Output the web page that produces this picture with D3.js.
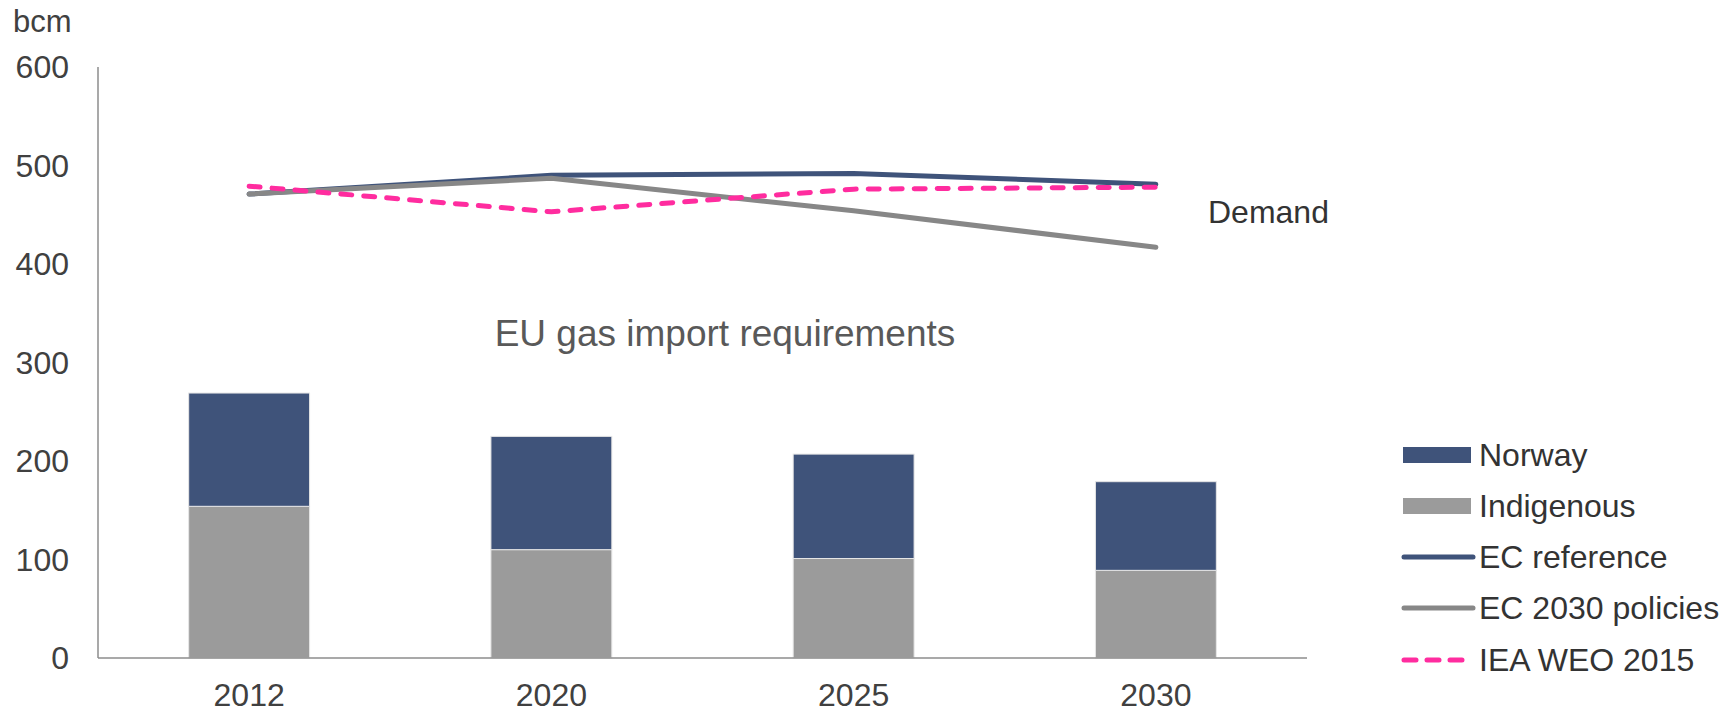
<!DOCTYPE html>
<html>
<head>
<meta charset="utf-8">
<script src="https://cdn.jsdelivr.net/npm/d3@7"></script>
<style>
  body { margin: 0; background: #fff; }
  text { font-family: "Liberation Sans", Arial, sans-serif; }
</style>
</head>
<body>
<div id="chart"></div>
<script>
const years = ["2012", "2020", "2025", "2030"];
const indigenous = [154, 110, 101, 89];
const norway = [115, 115, 106, 90];
const ecReference = [471, 490, 492, 481];
const ec2030Policies = [471, 487, 454, 417];
const ieaWeo2015 = [479, 453, 476, 478];
const yTicks = [0, 100, 200, 300, 400, 500, 600];

const width = 1734, height = 711;
const svg = d3.select("#chart").append("svg")
  .attr("width", width)
  .attr("height", height);

const x = d3.scaleBand()
  .domain(years)
  .range([98, 1307])
  .paddingInner(0.6)
  .paddingOuter(0.3);

const y = d3.scaleLinear()
  .domain([0, 600])
  .range([658, 67]);

// y tick labels
svg.append("g").selectAll("text")
  .data(yTicks)
  .enter().append("text")
  .attr("x", 69)
  .attr("y", d => y(d))
  .attr("dy", "0.35em")
  .attr("text-anchor", "end")
  .attr("font-size", 32)
  .attr("fill", "#404040")
  .text(d => d);

svg.append("text")
  .attr("x", 13)
  .attr("y", 32)
  .attr("font-size", 31)
  .attr("fill", "#404040")
  .text("bcm");

// stacked bars
const barData = years.map((yr, i) => ({ year: yr, indigenous: indigenous[i], norway: norway[i] }));
const stack = d3.stack().keys(["indigenous", "norway"])(barData);
const barColor = { indigenous: "#9b9b9b", norway: "#3f537a" };

svg.append("g").selectAll("g")
  .data(stack)
  .enter().append("g")
  .attr("fill", d => barColor[d.key])
  .selectAll("rect")
  .data(d => d)
  .enter().append("rect")
  .attr("x", d => x(d.data.year))
  .attr("width", x.bandwidth())
  .attr("y", d => y(d[1]))
  .attr("height", d => y(d[0]) - y(d[1]))
  .attr("stroke", "#e6e6e6")
  .attr("stroke-width", 1);

// axes lines
svg.append("line")
  .attr("x1", 98).attr("x2", 98)
  .attr("y1", y(600)).attr("y2", y(0))
  .attr("stroke", "#8c8c8c").attr("stroke-width", 1.5);
svg.append("line")
  .attr("x1", 98).attr("x2", 1307)
  .attr("y1", y(0)).attr("y2", y(0))
  .attr("stroke", "#8c8c8c").attr("stroke-width", 1.5);

// x labels
svg.append("g").selectAll("text")
  .data(years)
  .enter().append("text")
  .attr("x", d => x(d) + x.bandwidth() / 2)
  .attr("y", 706)
  .attr("text-anchor", "middle")
  .attr("font-size", 32)
  .attr("fill", "#404040")
  .text(d => d);

// demand lines
const line = d3.line()
  .x((d, i) => x(years[i]) + x.bandwidth() / 2)
  .y(d => y(d));

const series = [
  { name: "EC reference", values: ecReference, color: "#3f537a", dash: null },
  { name: "EC 2030 policies", values: ec2030Policies, color: "#878787", dash: null },
  { name: "IEA WEO 2015", values: ieaWeo2015, color: "#ff2c9f", dash: "11,12" }
];

svg.append("g").selectAll("path")
  .data(series)
  .enter().append("path")
  .attr("d", d => line(d.values))
  .attr("fill", "none")
  .attr("stroke", d => d.color)
  .attr("stroke-width", 5)
  .attr("stroke-linecap", "round")
  .attr("stroke-linejoin", "round")
  .attr("stroke-dasharray", d => d.dash);

// annotations
svg.append("text")
  .attr("x", 1208)
  .attr("y", 223)
  .attr("font-size", 32)
  .attr("fill", "#333")
  .text("Demand");

svg.append("text")
  .attr("x", 725)
  .attr("y", 346)
  .attr("text-anchor", "middle")
  .attr("font-size", 37)
  .attr("fill", "#595959")
  .text("EU gas import requirements");

// legend
const legendItems = [
  { name: "Norway", type: "rect", color: "#3f537a" },
  { name: "Indigenous", type: "rect", color: "#9b9b9b" },
  { name: "EC reference", type: "line", color: "#3f537a", dash: null, len: 70 },
  { name: "EC 2030 policies", type: "line", color: "#878787", dash: null, len: 70 },
  { name: "IEA WEO 2015", type: "line", color: "#ff2c9f", dash: "12,11", len: 60 }
];
const legendY = [455, 506, 557, 608, 660];

const legend = svg.append("g").selectAll("g")
  .data(legendItems)
  .enter().append("g")
  .attr("transform", (d, i) => `translate(1403, ${legendY[i]})`);

legend.filter(d => d.type === "rect").append("rect")
  .attr("x", 0).attr("y", -8)
  .attr("width", 68).attr("height", 16)
  .attr("fill", d => d.color);

legend.filter(d => d.type === "line").append("line")
  .attr("x1", 1).attr("x2", d => d.len)
  .attr("y1", 0).attr("y2", 0)
  .attr("stroke", d => d.color)
  .attr("stroke-width", 5)
  .attr("stroke-linecap", "round")
  .attr("stroke-dasharray", d => d.dash);

legend.append("text")
  .attr("x", 76)
  .attr("y", 0)
  .attr("dy", "0.35em")
  .attr("font-size", 32)
  .attr("fill", "#333")
  .text(d => d.name);
</script>
</body>
</html>
